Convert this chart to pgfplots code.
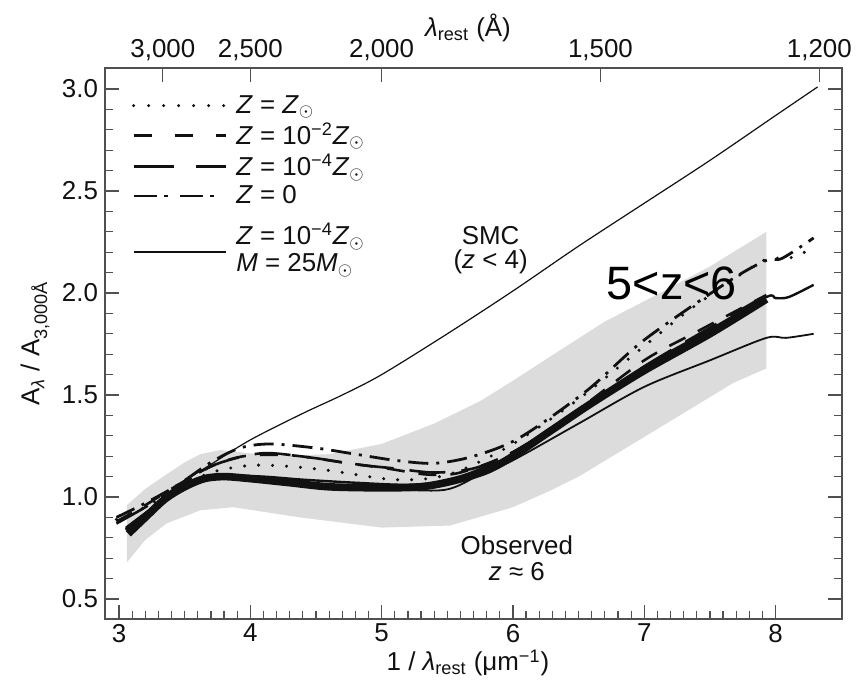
\documentclass[border=0pt]{standalone}
\usepackage{pgfplots}
\pgfplotsset{compat=1.18}
\usepackage{fontspec}
\setmainfont{Liberation Sans}
\definecolor{band}{HTML}{DCDCDC}
\definecolor{frame}{HTML}{505050}
\definecolor{ink}{HTML}{111111}
\begin{document}
\begin{tikzpicture}
\path[use as bounding box] (-52.5bp,-31bp) rectangle (375.5bp,309.5bp);
\pgfplotsset{
 common/.style={at={(0,0)}, anchor=south west, scale only axis,
  width=368.5bp, height=275.5bp,
  xmin=2.893, xmax=8.506, ymin=0.402, ymax=3.103,
  tick align=inside, major tick length=7bp, minor tick length=4bp,
  every tick/.style={frame, line width=0.6bp},
  axis line style={frame, line width=0.7bp},
  /pgf/number format/assume math mode=true,
  tick label style={font=\fontsize{13}{15}\selectfont, text=ink},
  label style={font=\fontsize{13}{15}\selectfont, text=ink},
 }
}
\begin{axis}[common,
  xtick={3,4,5,6,7,8}, minor x tick num=9,
  ytick={0.5,1.0,1.5,2.0,2.5,3.0}, minor y tick num=4,
  xtick pos=bottom, ytick pos=both,
  xticklabel style={yshift=1bp},
  yticklabel style={/pgf/number format/.cd,fixed,fixed zerofill,precision=1},
  xlabel={1 / \textit{λ}\textsubscript{rest} (μm\textsuperscript{−1})},
  ylabel={A\textsubscript{\textit{λ}} / A\textsubscript{3,000Å}},
  xlabel style={at={(axis description cs:0.4925,-0.080)}, anchor=center},
  ylabel style={at={(axis description cs:-0.095,0.5)}, anchor=center},
  legend style={draw=none, fill=none, at={(axis description cs:0.036,0.955)}, anchor=north west,
     inner sep=0pt, row sep=1.5bp, column sep=3.5bp,
     font=\fontsize{13}{13.5}\selectfont, text=ink, nodes={inner sep=1bp}},
  legend cell align=left,
  legend image code/.code={\draw[#1] (0bp,0bp) -- (46bp,0bp);},
]
% observed band
\addplot[fill=band, draw=none, forget plot] coordinates {
(3.06,0.96) (3.2,1.04) (3.36,1.11) (3.5,1.17) (3.62,1.21) (3.77,1.23) (3.92,1.22) (4.2,1.20) (4.6,1.21)
(5.0,1.26) (5.4,1.36) (5.75,1.47) (6.0,1.57) (6.36,1.72) (6.7,1.86) (7.12,2.00) (7.5,2.13) (7.93,2.30)
(7.93,1.63) (7.68,1.56) (7.04,1.31) (6.5,1.10) (6.28,1.03) (6.0,0.95) (5.52,0.86) (5.0,0.85)
(4.38,0.90) (3.87,0.95) (3.62,0.935) (3.36,0.87) (3.2,0.79) (3.06,0.68)} -- cycle;
% SMC
\addplot[ink, line width=0.6bp, smooth, forget plot] coordinates {
(3.55,1.10) (3.7,1.16) (4.0,1.28) (4.4,1.41) (4.7,1.50) (5.0,1.60) (5.5,1.80) (6.0,2.01)
(6.5,2.23) (7.0,2.44) (7.5,2.65) (8.0,2.87) (8.32,3.01)};
% Z = Zsun dotted
\addplot[ink, line width=1.7bp, line cap=round, dash pattern=on 0bp off 7bp, smooth, forget plot] coordinates {
(2.98,0.89) (3.2,0.95) (3.45,1.04) (3.7,1.12) (4.0,1.155) (4.3,1.15) (4.6,1.13) (4.9,1.10) (5.1,1.085)
(5.35,1.09) (5.6,1.13) (6.0,1.26) (6.5,1.48) (7.0,1.74) (7.35,1.92) (7.78,2.11) (7.95,2.17) (8.1,2.17) (8.29,2.22)};
% Z = 0 dash-dot
\addplot[ink, line width=1.4bp, dash pattern=on 10bp off 4bp on 1.5bp off 4bp, smooth, forget plot] coordinates {
(2.98,0.90) (3.2,0.97) (3.45,1.06) (3.7,1.17) (3.92,1.24) (4.15,1.26) (4.5,1.24) (4.8,1.21) (5.1,1.18)
(5.4,1.165) (5.7,1.20) (6.05,1.29) (6.56,1.52) (7.0,1.77) (7.65,2.06) (7.93,2.16) (8.05,2.17) (8.29,2.27)};
% Z = 1e-2 short dashed
\addplot[ink, line width=1.3bp, dash pattern=on 9bp off 7bp, smooth, forget plot] coordinates {
(2.98,0.88) (3.2,0.96) (3.45,1.06) (3.7,1.15) (3.95,1.20) (4.3,1.205) (4.7,1.17) (5.04,1.14) (5.35,1.11)
(5.6,1.12) (6.0,1.22) (6.5,1.43) (7.0,1.67) (7.4,1.81) (7.93,1.99)};
% Z = 1e-4 long dashed
\addplot[ink, line width=1.3bp, dash pattern=on 18bp off 8bp, smooth, forget plot] coordinates {
(2.98,0.87) (3.2,0.95) (3.45,1.05) (3.7,1.15) (3.95,1.20) (4.15,1.215) (4.5,1.19) (4.8,1.16) (5.1,1.14)
(5.4,1.12) (5.7,1.14) (6.0,1.22) (6.5,1.42) (7.0,1.64) (7.5,1.83) (7.93,1.99)};
% thick bundle
\addplot[ink, line width=3.8bp, smooth, forget plot] coordinates {
(3.07,0.82) (3.2,0.90) (3.35,0.99) (3.5,1.05) (3.65,1.09) (3.8,1.10) (4.0,1.09) (4.3,1.07) (4.6,1.05)
(5.0,1.045) (5.3,1.05) (5.55,1.08) (5.8,1.13) (6.0,1.20) (6.3,1.33) (6.6,1.46) (7.0,1.62) (7.5,1.80) (7.93,1.97)};
% solid extending to 8.3
\addplot[ink, line width=1.2bp, smooth, forget plot] coordinates {
(3.05,0.84) (3.2,0.92) (3.4,1.02) (3.6,1.08) (3.8,1.105) (4.1,1.10) (4.4,1.085) (4.8,1.07) (5.2,1.06)
(5.5,1.08) (5.8,1.15) (6.0,1.21) (6.5,1.43) (7.0,1.64) (7.5,1.82) (7.93,1.98) (8.0,1.975) (8.1,1.98) (8.29,2.04)};
% thin solid lower
\addplot[ink, line width=0.9bp, smooth, forget plot] coordinates {
(3.05,0.85) (3.3,0.97) (3.5,1.05) (3.75,1.10) (4.1,1.08) (4.5,1.05) (5.0,1.04) (5.48,1.035) (5.75,1.11)
(6.0,1.18) (6.5,1.36) (7.0,1.54) (7.5,1.67) (7.93,1.78) (8.08,1.78) (8.29,1.80)};
% legend
\addlegendimage{ink, line width=1.7bp, line cap=round, dash pattern=on 0bp off 7.5bp}
\addlegendentry{\textit{Z} = \textit{Z}\textsubscript{$\odot$}}
\addlegendimage{ink, line width=1.35bp, dash pattern=on 9bp off 11.5bp}
\addlegendentry{\textit{Z} = 10\textsuperscript{−2}\textit{Z}\textsubscript{$\odot$}}
\addlegendimage{ink, line width=1.35bp, dash pattern=on 20bp off 11bp}
\addlegendentry{\textit{Z} = 10\textsuperscript{−4}\textit{Z}\textsubscript{$\odot$}}
\addlegendimage{ink, line width=1.4bp, dash pattern=on 11.7bp off 3.5bp on 2bp off 6bp}
\addlegendentry{\textit{Z} = 0}
\addlegendimage{legend image code/.code={\draw[ink, line width=1.2bp] (0bp,-8.8bp) -- (46bp,-8.8bp);}}
\addlegendentry{\begin{tabular}{@{}l@{}}\rule{0pt}{15.5bp}\textit{Z} = 10\textsuperscript{−4}\textit{Z}\textsubscript{$\odot$}\\ \textit{M} = 25\textit{M}\textsubscript{$\odot$}\end{tabular}}
% annotations
\node[align=center, font=\fontsize{13}{12.5}\selectfont, text=ink] at (axis cs:5.83,2.21) {SMC\\(\textit{z} < 4)};
\node[align=center, font=\fontsize{13}{13.5}\selectfont, text=ink] at (axis cs:6.03,0.70) {Observed\\\textit{z} ≈ 6};
\node[font=\fontsize{23.5}{26}\selectfont, text=black] at (axis cs:7.21,2.045) {5<z<6};
\end{axis}
\begin{axis}[common, axis x line*=top, axis y line=none,
  xtick={3.3333,4,5,6.6667,8.3333},
  xticklabels={{3,000},{2,500},{2,000},{1,500},{1,200}},
  minor x tick num=0,
  x axis line style={-},
  xlabel={\textit{λ}\textsubscript{rest} (Å)},
  xlabel style={at={(axis description cs:0.4925,1.0726)}, anchor=center},
]
\addplot[draw=none] coordinates {(3,1)};
\end{axis}
\end{tikzpicture}
\end{document}
